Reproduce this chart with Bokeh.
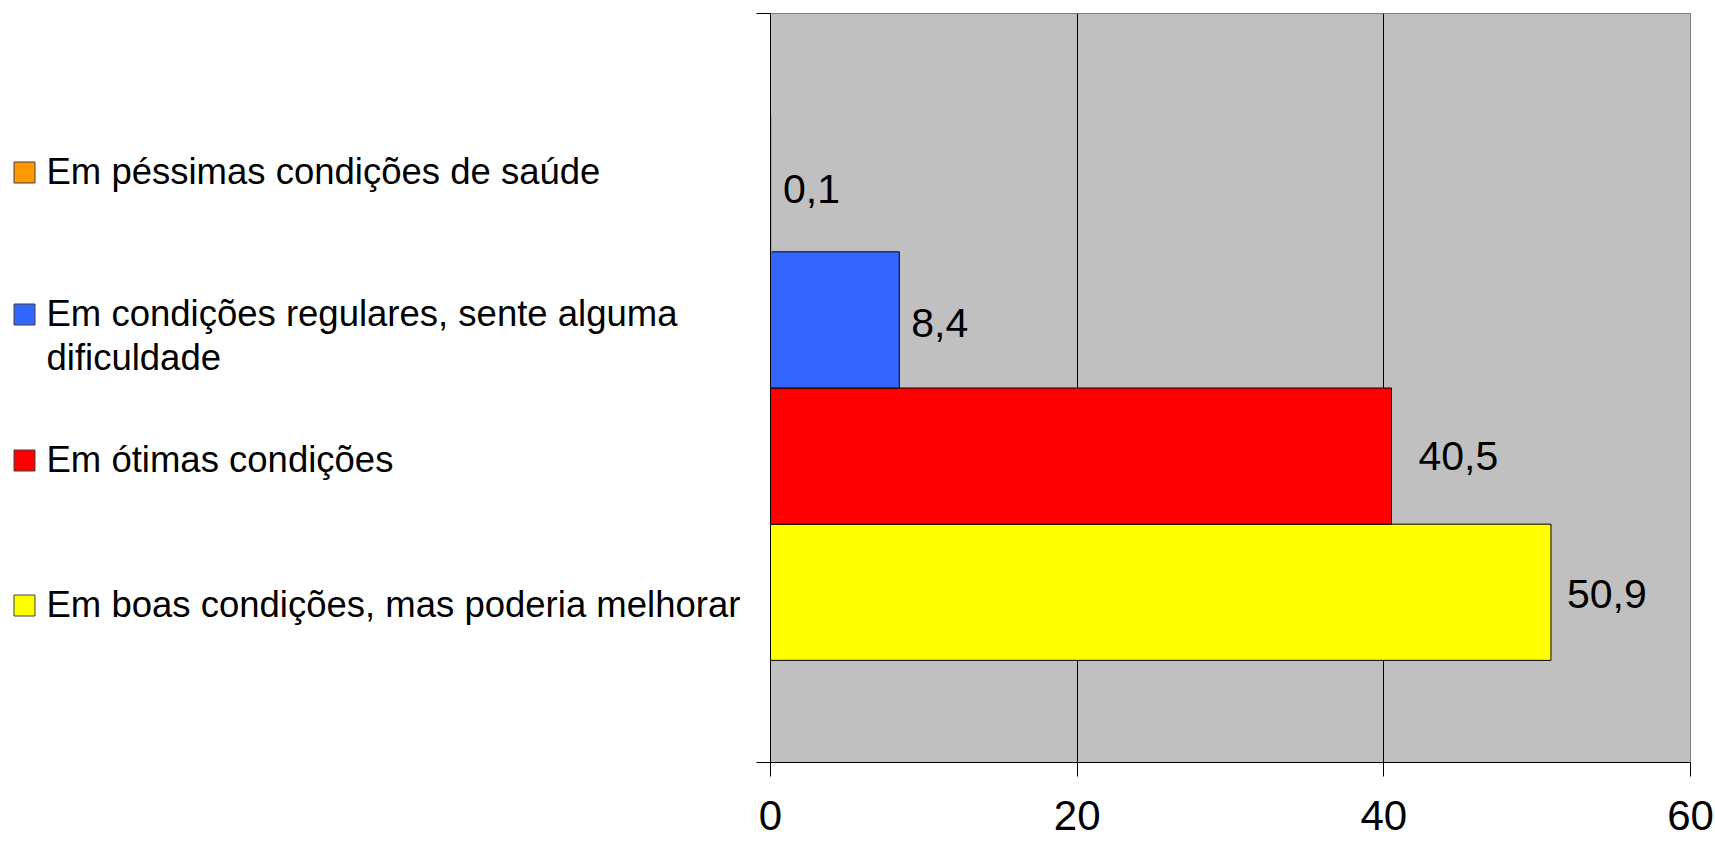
from bokeh.plotting import figure
from bokeh.layouts import row
from bokeh.models import Range1d, FixedTicker, ColumnDataSource
from bokeh.core.properties import value
from bokeh.embed import file_html
from bokeh.resources import INLINE

# ---- data (bottom to top) ----
categories = [
    "Em boas condições, mas poderia melhorar",
    "Em ótimas condições",
    "Em condições regulares, sente alguma\ndificuldade",
    "Em péssimas condições de saúde",
]
values = [50.9, 40.5, 8.4, 0.1]
value_labels = ["50,9", "40,5", "8,4", "0,1"]
colors = ["#FFFF00", "#FF0000", "#3366FF", "#FF9900"]
x_ticks = [0, 20, 40, 60]

# ---- style / layout constants ----
FONT = "Liberation Sans"
label_dx = [16, 27, 12, 11]                 # px offsets of value labels from bar end
label_dy = [2, 0, 3, 5]                     # px vertical nudges of value labels (down)
legend_centers = [604, 459, 313, 171]       # page px vertical centres of legend entries
LINE_H = 44
H = 847
TOP, BOTTOM = 13, 85

pos = list(range(len(categories)))

# ---------------- main chart ----------------
p = figure(width=967, height=H, output_backend="svg", toolbar_location=None,
           x_range=Range1d(0, 60), y_range=Range1d(-1.25, 4.25),
           min_border_left=22, min_border_right=25, min_border_top=TOP,
           min_border_bottom=BOTTOM)
p.border_fill_color = "white"
p.background_fill_color = "#C0C0C0"
p.outline_line_color = "#808080"
p.outline_line_width = 1

line_alpha = [1.0 if v >= 1 else 0.0 for v in values]
src = ColumnDataSource(dict(y=pos, right=values, color=colors, lab=value_labels,
                            dx=label_dx, dy=label_dy, la=line_alpha))
p.hbar(y="y", left=0, right="right", height=1.0, fill_color="color",
       line_color="black", line_alpha="la", line_width=1, source=src)
p.text(x="right", y="y", text="lab", x_offset="dx", y_offset="dy", source=src,
       text_font=value(FONT), text_font_size="41px", text_baseline="middle",
       text_align="left", text_color="black")

p.xaxis.ticker = FixedTicker(ticks=x_ticks)
p.xaxis.minor_tick_line_color = None
p.xaxis.major_tick_in = 0
p.xaxis.major_tick_out = 14
p.xaxis.major_tick_line_color = "black"
p.xaxis.axis_line_color = "black"
p.xaxis.major_label_text_font = FONT
p.xaxis.major_label_text_font_size = "42px"
p.xaxis.major_label_text_color = "black"
p.xaxis.major_label_standoff = 24

p.yaxis.ticker = FixedTicker(ticks=[-1.25, 4.25])
p.yaxis.major_label_overrides = {-1.25: "", 4.25: ""}
p.yaxis.minor_tick_line_color = None
p.yaxis.major_tick_in = 0
p.yaxis.major_tick_out = 14
p.yaxis.axis_line_color = "black"
p.yaxis.major_tick_line_color = "black"
p.yaxis.major_label_standoff = 0

p.ygrid.grid_line_color = None
p.xgrid.ticker = FixedTicker(ticks=[20, 40])
p.xgrid.grid_line_color = "black"
p.xgrid.grid_line_width = 1

# ---------------- legend panel (page-pixel coordinates) ----------------
L = figure(width=748, height=H, output_backend="svg", toolbar_location=None,
           x_range=Range1d(0, 748), y_range=Range1d(H - BOTTOM, TOP),
           min_border_left=0, min_border_right=0, min_border_top=TOP,
           min_border_bottom=BOTTOM)
L.axis.visible = False
L.grid.visible = False
L.outline_line_color = None
L.background_fill_color = "white"
L.border_fill_color = "white"

sq_x, sq_y, sq_c = [], [], []
tx, ty, tt = [], [], []
for i, lab in enumerate(categories):
    c = legend_centers[i]
    sq_x.append(24)
    sq_y.append(c + 1)
    sq_c.append(colors[i])
    for j, line in enumerate(lab.split("\n")):
        tx.append(46)
        ty.append(c + j * LINE_H)
        tt.append(line)

L.rect(x=sq_x, y=sq_y, width=21, height=21, fill_color=sq_c,
       line_color="#404040", line_width=1)
L.text(x=tx, y=ty, text=tt, text_font=value(FONT), text_font_size="36.5px",
       text_baseline="middle", text_align="left", text_color="black")

layout = row(L, p)
open("out.html", "w").write(file_html(layout, INLINE))
